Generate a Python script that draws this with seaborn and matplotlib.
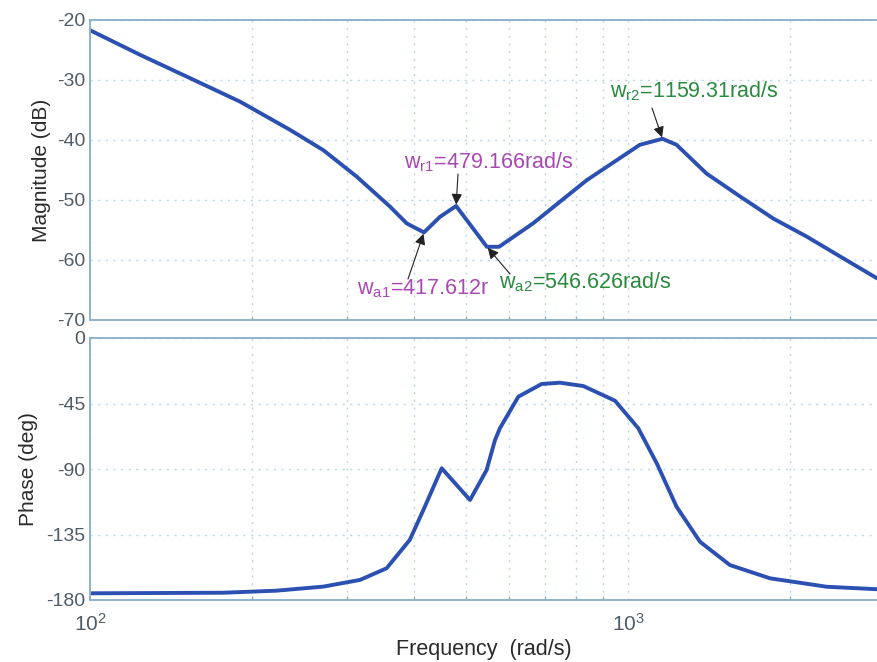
import numpy as np
import pandas as pd
import matplotlib
matplotlib.use("Agg")
import matplotlib.pyplot as plt
import seaborn as sns
from matplotlib.ticker import LogLocator, FixedLocator, NullFormatter

# ---- data ----
mag_freq = [100, 123.9, 153.5, 190, 235.3, 271.5, 313.1, 361.1, 387.9, 417.6,
            447.3, 479.2, 546.6, 575.8, 666, 838, 1052, 1159.3, 1231, 1400,
            1615, 1863, 2149, 2478, 2903]
mag_db = [-21.7, -25.8, -29.7, -33.6, -38.3, -41.7, -46.1, -51.1, -53.9, -55.4,
          -52.8, -51.0, -57.8, -57.8, -53.9, -46.7, -40.8, -39.8, -40.8, -45.6,
          -49.4, -53.1, -56.1, -59.4, -63.05]

ph_freq = [100, 177, 222, 271.5, 317.6, 355.9, 393, 416.5, 450.5,
           508.6, 546, 566, 578, 625.5, 691, 747, 826, 946, 1045,
           1131, 1231, 1361, 1547, 1836, 2341, 2904]
ph_deg = [-175.4, -175.0, -173.6, -170.8, -166.2, -158.2, -138.7, -118.2, -89.5,
          -111.3, -90.7, -70.1, -62.0, -40.3, -31.6, -30.7, -33.0, -43.1, -62.0,
          -86.1, -115.9, -140.0, -156.0, -165.1, -170.9, -172.6]

mag_yticks = [-70, -60, -50, -40, -30, -20]
ph_yticks = [-180, -135, -90, -45, 0]

mag_df = pd.DataFrame({"freq": mag_freq, "mag": mag_db})
ph_df = pd.DataFrame({"freq": ph_freq, "phase": ph_deg})

sns.set_theme(style="white")
plt.rcParams['font.family'] = ['Liberation Sans', 'DejaVu Sans']
plt.rcParams['mathtext.default'] = 'regular'
plt.rcParams['mathtext.fontset'] = 'custom'
plt.rcParams['mathtext.rm'] = 'Liberation Sans'

W, H = 877, 662
fig = plt.figure(figsize=(W / 100, H / 100), dpi=100)
fig.patch.set_facecolor('white')

ax1 = fig.add_axes([90 / W, 1 - 320 / H, 1 - 90 / W, 300 / H])
ax2 = fig.add_axes([90 / W, 1 - 600 / H, 1 - 90 / W, 262 / H])

line_color = '#2b50b2'
spine_color = '#8fb2cc'
grid_color = '#b9d5ea'
tick_color = '#4f5d68'

sns.lineplot(data=mag_df, x="freq", y="mag", ax=ax1, color=line_color, lw=2.8, sort=False)
sns.lineplot(data=ph_df, x="freq", y="phase", ax=ax2, color=line_color, lw=2.8, sort=False)

for ax in (ax1, ax2):
    ax.set_xscale('log')
    ax.set_xlim(100, 2903)
    ax.xaxis.set_major_locator(LogLocator(base=10, numticks=10))
    ax.xaxis.set_minor_locator(LogLocator(base=10, subs=np.arange(2, 10), numticks=20))
    ax.xaxis.set_minor_formatter(NullFormatter())
    ax.grid(True, which='both', axis='x', color=grid_color, linestyle=(0, (1.5, 4)), lw=1.0)
    ax.grid(True, which='major', axis='y', color=grid_color, linestyle=(0, (1.5, 4)), lw=1.0)
    for s in ('left', 'top', 'bottom'):
        ax.spines[s].set_color(spine_color)
        ax.spines[s].set_linewidth(1.4)
    ax.spines['right'].set_visible(False)
    ax.tick_params(axis='both', which='both', direction='in', colors=spine_color,
                   labelcolor=tick_color, labelsize=14)
    ax.tick_params(axis='both', which='major', length=5)
    ax.tick_params(axis='x', which='minor', length=3, bottom=True)
    ax.tick_params(axis='x', which='major', pad=9, labelsize=15)

ax1.set_ylim(-70, -20)
ax1.yaxis.set_major_locator(FixedLocator(mag_yticks))
ax1.set_yticklabels([str(v) for v in mag_yticks])
ax1.tick_params(axis='x', which='both', labelbottom=False)
ax1.set_xlabel('')
ax1.set_ylabel('Magnitude (dB)', fontsize=15, color='#2a2a2a', labelpad=4)

ax2.set_ylim(-180, 0)
ax2.yaxis.set_major_locator(FixedLocator(ph_yticks))
ax2.set_yticklabels([str(v) for v in ph_yticks])
ax2.set_ylabel('Phase (deg)', fontsize=15, color='#2a2a2a', labelpad=6)
ax2.set_xlabel('Frequency  (rad/s)', fontsize=15.5, color='#2a2a2a', labelpad=3)

magenta = '#a948b3'
green = '#2a8a3e'
arrow_kw = dict(arrowstyle='-|>', color='#222222', lw=0.8, mutation_scale=16,
                shrinkA=0, shrinkB=1)

def fp(x, y):
    return (x, H - y)

fs = 15.5
# w_r1
ax1.annotate('w$_{r1}$=479.166rad/s', xy=(479.2, -51.0), xycoords='data',
             xytext=fp(404, 162), textcoords='figure pixels',
             color=magenta, fontsize=fs, ha='left', va='center')
ax1.annotate('', xy=(479.2, -51.0), xycoords='data',
             xytext=fp(458, 174), textcoords='figure pixels', arrowprops=arrow_kw)
# w_a1
ax1.annotate('w$_{a1}$=417.612r', xy=(417.6, -55.4), xycoords='data',
             xytext=fp(357, 289), textcoords='figure pixels',
             color=magenta, fontsize=fs, ha='left', va='center')
ax1.annotate('', xy=(417.6, -55.4), xycoords='data',
             xytext=fp(408, 279), textcoords='figure pixels', arrowprops=arrow_kw)
# w_a2
ax1.annotate('w$_{a2}$=546.626rad/s', xy=(546.6, -57.8), xycoords='data',
             xytext=fp(499, 282), textcoords='figure pixels',
             color=green, fontsize=fs, ha='left', va='center')
ax1.annotate('', xy=(546.6, -57.8), xycoords='data',
             xytext=fp(510, 274), textcoords='figure pixels', arrowprops=arrow_kw)
# w_r2
ax1.annotate('w$_{r2}$=1159.31rad/s', xy=(1159.3, -39.8), xycoords='data',
             xytext=fp(610, 91), textcoords='figure pixels',
             color=green, fontsize=fs, ha='left', va='center')
ax1.annotate('', xy=(1159.3, -39.8), xycoords='data',
             xytext=fp(652, 108), textcoords='figure pixels', arrowprops=arrow_kw)

fig.savefig('out.png', dpi=100)
